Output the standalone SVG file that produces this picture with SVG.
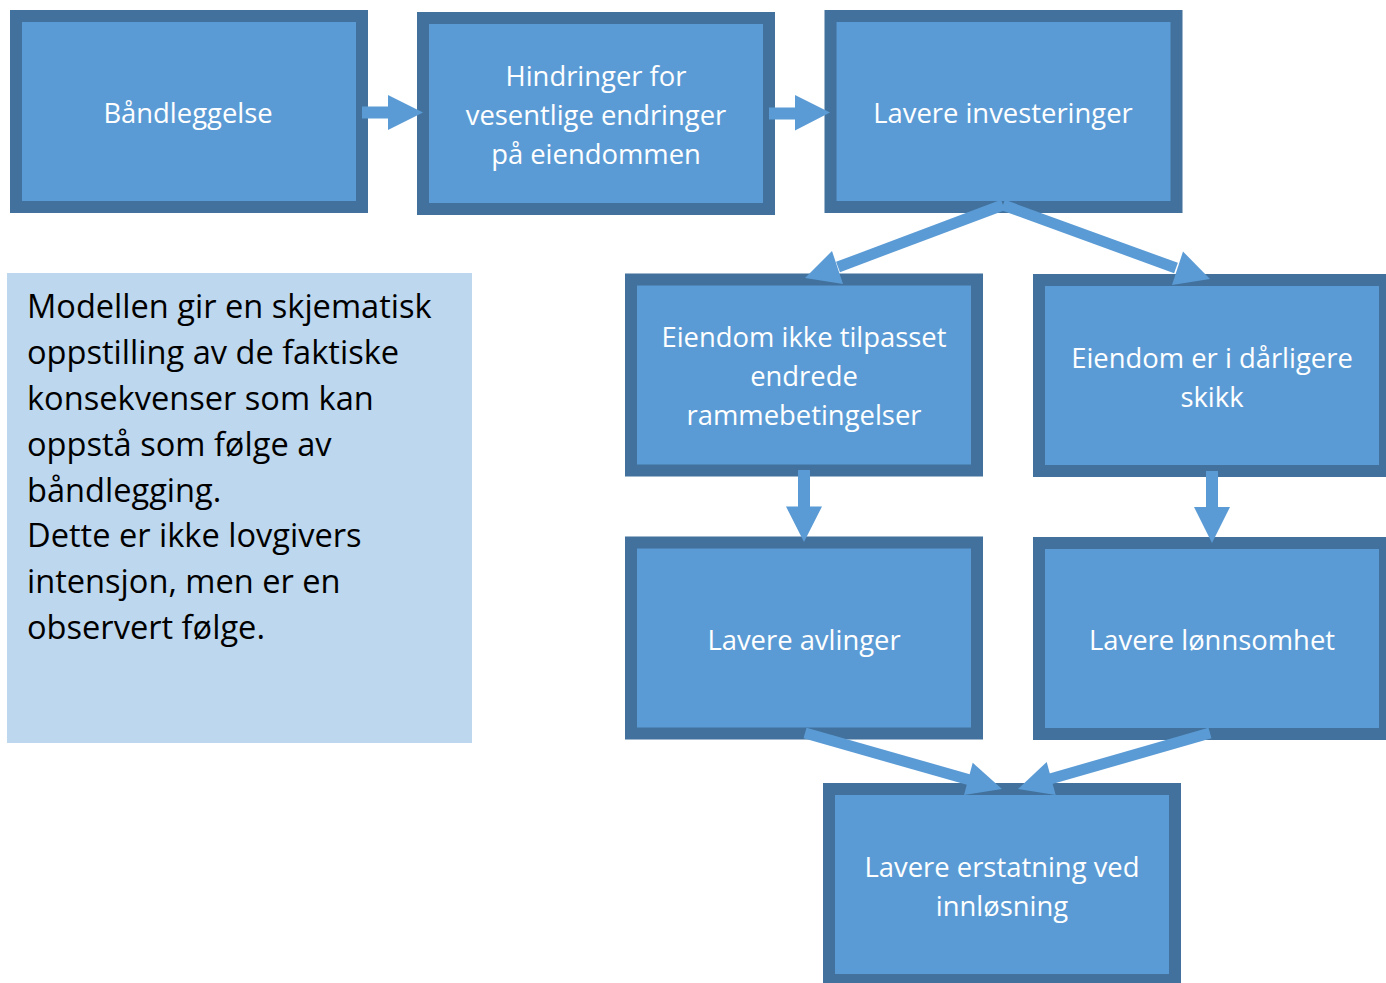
<svg xmlns="http://www.w3.org/2000/svg" width="1386" height="983" viewBox="0 0 1386 983">
<style>
.box{fill:#5B9BD5;stroke:#41719C;stroke-width:12}
.lbl{fill:#FFFFFF;font-family:"Open Sans","Noto Sans",sans-serif;font-size:27.4px;text-anchor:middle}
.note{fill:#000000;font-family:"Open Sans","Noto Sans",sans-serif;font-size:32.6px}
.shaft{stroke:#5B9BD5;stroke-width:11;fill:none}
.head{fill:#5B9BD5}
</style>
<rect width="1386" height="983" fill="#FFFFFF"/>
<g id="note">
<rect x="7" y="273" width="465" height="470" fill="#BDD7EE"/>
<text class="note" x="27" y="318">Modellen gir en skjematisk</text>
<text class="note" x="27" y="364">oppstilling av de faktiske</text>
<text class="note" x="27" y="410">konsekvenser som kan</text>
<text class="note" x="27" y="456">oppstå som følge av</text>
<text class="note" x="27" y="502">båndlegging.</text>
<text class="note" x="27" y="547">Dette er ikke lovgivers</text>
<text class="note" x="27" y="593">intensjon, men er en</text>
<text class="note" x="27" y="639">observert følge.</text>
</g>
<g id="n1">
<rect class="box" x="16" y="16" width="346" height="191"/>
<text class="lbl" x="188" y="123">Båndleggelse</text>
</g>
<g id="n2">
<rect class="box" x="423" y="18" width="346" height="191"/>
<text class="lbl" x="596" y="86">Hindringer for</text>
<text class="lbl" x="596" y="125">vesentlige endringer</text>
<text class="lbl" x="596" y="164">på eiendommen</text>
</g>
<g id="n3">
<rect class="box" x="830.5" y="16" width="346" height="191"/>
<text class="lbl" x="1003" y="123">Lavere investeringer</text>
</g>
<g id="n4">
<rect class="box" x="631" y="279.5" width="346" height="191"/>
<text class="lbl" x="804" y="347">Eiendom ikke tilpasset</text>
<text class="lbl" x="804" y="386">endrede</text>
<text class="lbl" x="804" y="425">rammebetingelser</text>
</g>
<g id="n5">
<rect class="box" x="1039" y="280" width="346" height="191"/>
<text class="lbl" x="1212" y="368">Eiendom er i dårligere</text>
<text class="lbl" x="1212" y="407">skikk</text>
</g>
<g id="n6">
<rect class="box" x="631" y="542.5" width="346" height="191"/>
<text class="lbl" x="804" y="650">Lavere avlinger</text>
</g>
<g id="n7">
<rect class="box" x="1039" y="543" width="346" height="191"/>
<text class="lbl" x="1212" y="650">Lavere lønnsomhet</text>
</g>
<g id="n8">
<rect class="box" x="829" y="789" width="346" height="191"/>
<text class="lbl" x="1002" y="877">Lavere erstatning ved</text>
<text class="lbl" x="1002" y="916">innløsning</text>
</g>
<g id="connectors">
<polygon class="head" points="362,106.5 388,106.5 388,95 423,112.5 388,130 388,118.5 362,118.5"/>
<polygon class="head" points="769,107.5 795,107.5 795,95 830,112.5 795,130.5 795,119.5 769,119.5"/>
<line class="shaft" x1="1003" y1="205" x2="838" y2="267"/>
<polygon class="head" points="805,278 832,251 843,284"/>
<line class="shaft" x1="1003" y1="205" x2="1176" y2="268"/>
<polygon class="head" points="1210,279 1183,251.5 1172,285"/>
<polygon class="head" points="798,470 810,470 810,506.5 822,506.5 804,542 786,506.5 798,506.5"/>
<polygon class="head" points="1206,471 1218,471 1218,507 1230,507 1212,543 1194,507 1206,507"/>
<line class="shaft" x1="805" y1="733" x2="970" y2="780"/>
<polygon class="head" points="1002,789 972.7,762.7 964,795"/>
<line class="shaft" x1="1210" y1="733" x2="1050" y2="779"/>
<polygon class="head" points="1018,789 1046.7,762 1055.7,795"/>
</g>
</svg>
